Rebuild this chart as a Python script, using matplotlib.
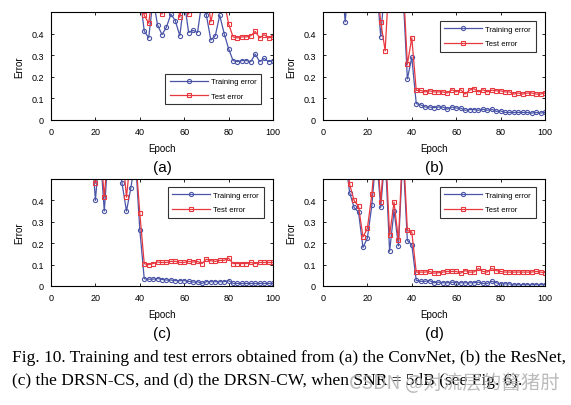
import numpy as np
import matplotlib
matplotlib.use("Agg")
import matplotlib.pyplot as plt

plt.rcParams['font.family'] = ['Liberation Sans', 'DejaVu Sans']

epochs = np.arange(2, 101, 2)

# (a) ConvNet
train_a = [0.90, 0.88, 0.86, 0.85, 0.83, 0.82, 0.80, 0.78, 0.77, 0.75,
           0.74, 0.72, 0.70, 0.68, 0.66, 0.65, 0.63, 0.62, 0.60, 0.58,
           0.412, 0.38, 0.56, 0.44, 0.395, 0.43, 0.49, 0.46, 0.39, 0.55,
           0.405, 0.415, 0.405, 0.55, 0.485, 0.37, 0.39, 0.485, 0.40, 0.33,
           0.275, 0.27, 0.275, 0.275, 0.27, 0.305, 0.27, 0.285, 0.27, 0.275]
test_a = [0.92, 0.90, 0.88, 0.87, 0.86, 0.85, 0.83, 0.82, 0.80, 0.79,
          0.77, 0.76, 0.74, 0.72, 0.71, 0.70, 0.68, 0.66, 0.64, 0.62,
          0.485, 0.448, 0.60, 0.60, 0.49, 0.60, 0.60, 0.60, 0.475, 0.58,
          0.49, 0.60, 0.60, 0.60, 0.60, 0.455, 0.55, 0.60, 0.55, 0.445,
          0.385, 0.38, 0.385, 0.385, 0.39, 0.41, 0.38, 0.395, 0.38, 0.385]

# (b) ResNet
train_b = [0.85, 0.80, 0.75, 0.70, 0.454, 0.70, 0.75, 0.72, 0.70, 0.68,
           0.66, 0.65, 0.385, 0.65, 0.66, 0.64, 0.62, 0.60, 0.19, 0.29,
           0.076, 0.07, 0.06, 0.06, 0.057, 0.06, 0.06, 0.05, 0.06, 0.055,
           0.055, 0.045, 0.048, 0.048, 0.045, 0.05, 0.045, 0.05, 0.04, 0.042,
           0.035, 0.035, 0.035, 0.035, 0.035, 0.035, 0.032, 0.035, 0.032, 0.035]
test_b = [0.90, 0.88, 0.85, 0.82, 0.80, 0.78, 0.76, 0.74, 0.72, 0.70,
          0.68, 0.66, 0.454, 0.32, 0.70, 0.70, 0.68, 0.66, 0.258, 0.38,
          0.137, 0.137, 0.13, 0.135, 0.13, 0.13, 0.13, 0.125, 0.14, 0.13,
          0.14, 0.12, 0.138, 0.145, 0.13, 0.14, 0.13, 0.138, 0.135, 0.135,
          0.13, 0.13, 0.12, 0.125, 0.12, 0.125, 0.125, 0.12, 0.12, 0.125]

# (c) DRSN-CS
train_c = [0.90, 0.88, 0.85, 0.82, 0.80, 0.78, 0.75, 0.72, 0.70, 0.40,
           0.65, 0.35, 0.65, 0.66, 0.62, 0.48, 0.35, 0.46, 0.60, 0.263,
           0.034, 0.032, 0.032, 0.035, 0.03, 0.028, 0.028, 0.025, 0.025, 0.025,
           0.022, 0.018, 0.02, 0.012, 0.02, 0.02, 0.02, 0.02, 0.02, 0.025,
           0.012, 0.012, 0.012, 0.012, 0.012, 0.012, 0.012, 0.012, 0.012, 0.012]
test_c = [0.92, 0.90, 0.88, 0.85, 0.82, 0.80, 0.78, 0.75, 0.72, 0.48,
          0.68, 0.415, 0.68, 0.68, 0.66, 0.64, 0.415, 0.62, 0.62, 0.34,
          0.104, 0.10, 0.105, 0.112, 0.11, 0.11, 0.115, 0.115, 0.11, 0.11,
          0.115, 0.112, 0.115, 0.105, 0.125, 0.118, 0.115, 0.12, 0.12, 0.13,
          0.105, 0.105, 0.105, 0.105, 0.11, 0.105, 0.11, 0.11, 0.11, 0.11]

# (d) DRSN-CW
train_d = [0.90, 0.85, 0.80, 0.70, 0.60, 0.436, 0.367, 0.345, 0.18, 0.224,
           0.377, 0.62, 0.367, 0.62, 0.162, 0.352, 0.187, 0.62, 0.212, 0.193,
           0.026, 0.022, 0.022, 0.025, 0.015, 0.018, 0.015, 0.015, 0.018, 0.015,
           0.015, 0.015, 0.015, 0.015, 0.018, 0.012, 0.012, 0.022, 0.015, 0.01,
           0.01, 0.01, 0.005, 0.006, 0.006, 0.006, 0.006, 0.006, 0.006, 0.006]
test_d = [0.92, 0.88, 0.82, 0.75, 0.65, 0.475, 0.40, 0.372, 0.229, 0.27,
          0.428, 0.68, 0.392, 0.68, 0.237, 0.392, 0.213, 0.68, 0.26, 0.252,
          0.065, 0.065, 0.065, 0.068, 0.06, 0.062, 0.065, 0.068, 0.068, 0.068,
          0.06, 0.072, 0.065, 0.065, 0.082, 0.068, 0.065, 0.082, 0.072, 0.068,
          0.065, 0.065, 0.065, 0.065, 0.065, 0.065, 0.065, 0.068, 0.065, 0.062]

panels = ["(a)", "(b)", "(c)", "(d)"]
train_all = [train_a, train_b, train_c, train_d]
test_all = [test_a, test_b, test_c, test_d]

W, H = 571, 406
# axes boxes in pixels: left, top, right, bottom
boxes = [(51, 13, 273, 121), (323, 13, 545, 121),
         (51, 180, 273, 287), (323, 180, 545, 287)]
# legend upper-left anchors (axes fraction)
leg_pos = [(0.515, 0.43), (0.525, 0.915), (0.525, 0.925), (0.525, 0.925)]

blue = "#4a55a8"
red = "#e8383f"

fig = plt.figure(figsize=(W / 100, H / 100), dpi=100)

for i in range(4):
    l, t, r, b = boxes[i]
    ax = fig.add_axes([l / W, 1 - b / H, (r - l) / W, (b - t) / H])
    ax.plot(epochs, train_all[i], color=blue, lw=0.9, marker='o', ms=3.0,
            mfc='none', mew=0.8, label="Training error")
    ax.plot(epochs, test_all[i], color=red, lw=0.9, marker='s', ms=3.0,
            mfc='none', mew=0.8, label="Test error")
    ax.set_xlim(0, 100)
    ax.set_ylim(0, 0.5)
    ax.set_xticks([0, 20, 40, 60, 80, 100])
    ax.set_yticks([0, 0.1, 0.2, 0.3, 0.4])
    ax.set_yticklabels(["0", "0.1", "0.2", "0.3", "0.4"])
    ax.tick_params(direction='in', top=True, right=True, length=2.5,
                   width=0.6, labelsize=6.5, pad=5)
    for s in ax.spines.values():
        s.set_linewidth(0.8)
    ax.set_xlabel("Epoch", fontsize=7, labelpad=5)
    ax.set_ylabel("Error", fontsize=7, labelpad=5)
    leg = ax.legend(loc='upper left', bbox_to_anchor=leg_pos[i], fontsize=5.5,
                    frameon=True, fancybox=False, edgecolor='black',
                    handlelength=5, borderpad=0.6, labelspacing=0.9,
                    handletextpad=0.4, borderaxespad=0)
    leg.get_frame().set_linewidth(0.8)
    fig.text((l + r) / 2 / W, 1 - (b + 47) / H, panels[i], ha='center',
             va='center', fontsize=11)

fig.text(12 / W, 1 - 358 / H,
         "Fig. 10. Training and test errors obtained from (a) the ConvNet, (b) the ResNet,",
         family='Liberation Serif', fontsize=12.5, va='center')
fig.text(12 / W, 1 - 381 / H,
         "(c) the DRSN-CS, and (d) the DRSN-CW, when SNR = 5dB (see Fig. 6).",
         family='Liberation Serif', fontsize=12.5, va='center')
fig.text(560 / W, 1 - 384 / H, "CSDN @对流层的酱猪肘", ha='right', va='center',
         family=['Noto Sans CJK SC', 'DejaVu Sans'], fontsize=14,
         color='#b0b0b0', alpha=0.85)

fig.savefig("out.png", dpi=100)
